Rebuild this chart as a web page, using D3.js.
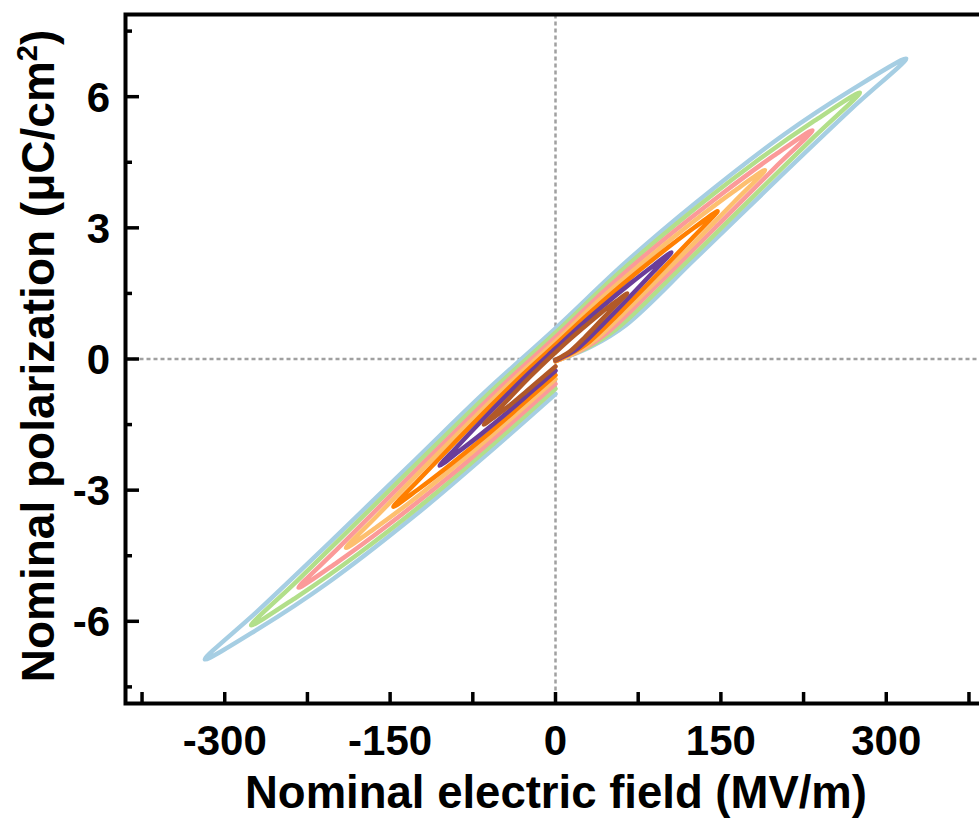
<!DOCTYPE html>
<html>
<head>
<meta charset="utf-8">
<script src="https://cdn.jsdelivr.net/npm/d3@7"></script>
<style>
  body { margin: 0; background: #fff; }
  text { font-family: Arial, "Liberation Sans", sans-serif; font-weight: bold; fill: #000; }
</style>
</head>
<body>
<div id="chart"></div>
<script>
'use strict';

// P-E loops, one per maximum field, points in measuring order:
// start at E = 0, up to +Emax, down to -Emax, back to E = 0
// [field (MV/m), polarization (uC/cm2)]
const loop318 = [[0,-0.05],[32,0.28],[64,0.78],[127,2.30],[207,4.25],[270,5.76],[318,6.87],
    [270,6.18],[207,5.13],[127,3.57],[64,2.22],[0,0.70],[-64,-0.76],[-127,-2.30],[-207,-4.25],[-270,-5.76],[-318,-6.87],
    [-270,-6.18],[-207,-5.13],[-127,-3.57],[-64,-2.22],[0,-0.80]];
const loop276 = [[0,-0.05],[28,0.25],[55,0.68],[110,2.00],[179,3.71],[235,5.09],[276,6.09],
    [235,5.45],[179,4.46],[110,3.10],[55,1.91],[0,0.60],[-55,-0.66],[-110,-2.00],[-179,-3.71],[-235,-5.09],[-276,-6.09],
    [-235,-5.45],[-179,-4.46],[-110,-3.10],[-55,-1.91],[0,-0.68]];
const loop233 = [[0,-0.05],[23,0.2],[47,0.60],[93,1.71],[151,3.16],[198,4.35],[233,5.23],
    [198,4.65],[151,3.78],[93,2.62],[47,1.62],[0,0.50],[-47,-0.58],[-93,-1.71],[-151,-3.16],[-198,-4.35],[-233,-5.23],
    [-198,-4.65],[-151,-3.78],[-93,-2.62],[-47,-1.62],[0,-0.57]];
const loop190 = [[0,-0.05],[19,0.16],[38,0.48],[76,1.40],[124,2.61],[162,3.59],[190,4.32],
    [162,3.84],[124,3.12],[76,2.14],[38,1.31],[0,0.40],[-38,-0.47],[-76,-1.40],[-124,-2.61],[-162,-3.59],[-190,-4.32],
    [-162,-3.84],[-124,-3.12],[-76,-2.14],[-38,-1.31],[0,-0.46]];
const loop147 = [[0,-0.05],[15,0.14],[29,0.36],[59,1.08],[96,2.03],[125,2.79],[147,3.38],
    [125,2.99],[96,2.43],[59,1.67],[29,1.01],[0,0.33],[-29,-0.34],[-59,-1.08],[-96,-2.03],[-125,-2.79],[-147,-3.38],
    [-125,-2.99],[-96,-2.43],[-59,-1.67],[-29,-1.01],[0,-0.37]];
const loop105 = [[0,-0.03],[10,0.09],[21,0.26],[42,0.77],[68,1.44],[89,2.00],[105,2.44],
    [89,2.14],[68,1.73],[42,1.19],[21,0.73],[0,0.24],[-21,-0.25],[-42,-0.77],[-68,-1.44],[-89,-2.00],[-105,-2.44],
    [-89,-2.14],[-68,-1.73],[-42,-1.19],[-21,-0.73],[0,-0.27]];
const loop65 = [[0,-0.02],[6,0.06],[13,0.17],[26,0.48],[42,0.90],[55,1.24],[65,1.50],
    [55,1.32],[42,1.07],[26,0.73],[13,0.45],[0,0.15],[-13,-0.16],[-26,-0.48],[-42,-0.90],[-55,-1.24],[-65,-1.50],
    [-55,-1.32],[-42,-1.07],[-26,-0.73],[-13,-0.45],[0,-0.17]];

const loops = [loop318, loop276, loop233, loop190, loop147, loop105, loop65];
const loopColors = ['#a6cee3', '#b2df8a', '#fb9a99', '#fdbf6f', '#ff7f00', '#6a3d9a', '#b15928'];

const xTicks = [-375, -300, -225, -150, -75, 0, 75, 150, 225, 300, 375];
const xLabels = [-300, -150, 0, 150, 300];
const yTicks = [-7.5, -6, -4.5, -3, -1.5, 0, 1.5, 3, 4.5, 6, 7.5];
const yLabels = [-6, -3, 0, 3, 6];

const width = 979;
const height = 827;
const plot = {left: 125.5, right: 985.5, top: 14.5, bottom: 703.5};

const svg = d3.select('#chart').append('svg')
    .attr('width', width)
    .attr('height', height)
    .style('display', 'block');

svg.append('rect').attr('width', width).attr('height', height).attr('fill', '#fff');

const x = d3.scaleLinear().domain([-390, 390]).range([plot.left, plot.right]);
const y = d3.scaleLinear().domain([-7.88, 7.88]).range([plot.bottom, plot.top]);

// dotted zero lines
const zeroGroup = svg.append('g')
    .attr('stroke', '#a0a0a0')
    .attr('stroke-width', 2.5)
    .attr('stroke-dasharray', '4,3');
zeroGroup.append('line')
    .attr('x1', x(0)).attr('x2', x(0))
    .attr('y1', plot.top).attr('y2', plot.bottom);
zeroGroup.append('line')
    .attr('x1', plot.left).attr('x2', plot.right)
    .attr('y1', y(0)).attr('y2', y(0));

// loops, biggest first so the small ones sit on top
const line = d3.line()
    .x(d => x(d[0]))
    .y(d => y(d[1]))
    .curve(d3.curveCatmullRom.alpha(0.5));

svg.append('g').selectAll('path')
    .data(loops)
    .join('path')
    .attr('d', line)
    .attr('fill', 'none')
    .attr('stroke', (d, i) => loopColors[i])
    .attr('stroke-width', 4.5)
    .attr('stroke-linejoin', 'round')
    .attr('stroke-linecap', 'round');

// frame
svg.append('rect')
    .attr('x', plot.left)
    .attr('y', plot.top)
    .attr('width', plot.right - plot.left)
    .attr('height', plot.bottom - plot.top)
    .attr('fill', 'none')
    .attr('stroke', '#000')
    .attr('stroke-width', 4);

// x ticks (inside, all the same length)
svg.append('g').selectAll('line')
    .data(xTicks)
    .join('line')
    .attr('x1', d => x(d)).attr('x2', d => x(d))
    .attr('y1', plot.bottom).attr('y2', plot.bottom - 11.5)
    .attr('stroke', '#000')
    .attr('stroke-width', 3.5);

// y ticks, long on the labelled ones
svg.append('g').selectAll('line')
    .data(yTicks)
    .join('line')
    .attr('x1', plot.left)
    .attr('x2', d => plot.left + (yLabels.includes(d) ? 13.5 : 6.5))
    .attr('y1', d => y(d)).attr('y2', d => y(d))
    .attr('stroke', '#000')
    .attr('stroke-width', 3.5);

svg.append('g').selectAll('text')
    .data(xLabels)
    .join('text')
    .attr('x', d => x(d))
    .attr('y', 755)
    .attr('text-anchor', 'middle')
    .style('font-size', '42px')
    .text(d => d);

svg.append('g').selectAll('text')
    .data(yLabels)
    .join('text')
    .attr('x', 110)
    .attr('y', d => y(d) + 15)
    .attr('text-anchor', 'end')
    .style('font-size', '42px')
    .text(d => d);

svg.append('text')
    .attr('x', 556)
    .attr('y', 808)
    .attr('text-anchor', 'middle')
    .style('font-size', '45.5px')
    .text('Nominal electric field (MV/m)');

const yTitle = svg.append('text')
    .attr('transform', 'translate(54,356) rotate(-90)')
    .attr('text-anchor', 'middle')
    .style('font-size', '46px');
yTitle.append('tspan').text('Nominal polarization (μC/cm');
yTitle.append('tspan').attr('dy', -17).style('font-size', '29px').text('2');
yTitle.append('tspan').attr('dy', 17).text(')');
</script>
</body>
</html>
